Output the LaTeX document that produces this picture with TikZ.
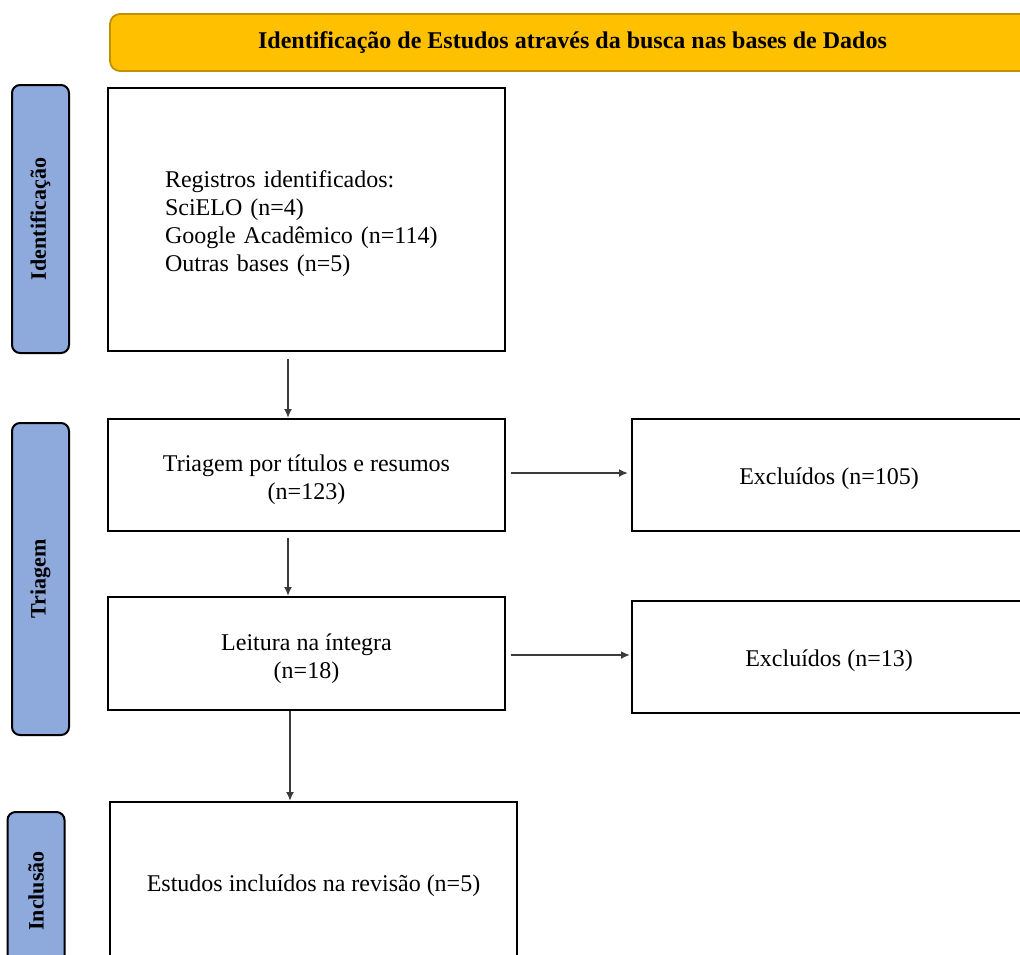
\documentclass[tikz,border=0pt]{standalone}
\usepackage{fontspec}
\setmainfont{Liberation Serif}
\usetikzlibrary{arrows.meta}
\definecolor{bannerfill}{HTML}{FFC000}
\definecolor{bannerline}{HTML}{BF9000}
\definecolor{sidefill}{HTML}{8EA9DB}
\definecolor{arrgray}{HTML}{3A3A3A}

\begin{document}
\begin{tikzpicture}[
  x=0.5pt, y=-0.5pt,
  box/.style={draw=black, line width=1pt, fill=white, align=center, inner sep=0pt,
    text height=12.5pt, font=\fontsize{12}{14}\selectfont},
  twoline/.style={text height=27.5pt},
  side/.style={draw=black, line width=1pt, fill=sidefill, rounded corners=4pt, rotate=90,
    minimum height=28.5pt, inner sep=0pt, font=\fontsize{11}{13}\selectfont\bfseries},
  banner/.style={draw=bannerline, line width=0.9pt, fill=bannerfill, rounded corners=5pt,
    inner sep=0pt, font=\fontsize{12}{14}\selectfont\bfseries},
  arr/.style={draw=arrgray, line width=1.3pt, -{Latex[length=4.5pt,width=4pt]}},
]
\clip (0,0) rectangle (1020,954);
\fill[white] (0,0) rectangle (1020,954);

\node [banner, minimum width=462.5pt, minimum height=28.5pt] (head) at (572.5,42.5)
  {Identificação de Estudos através da busca nas bases de Dados};

\node [side, minimum width=134pt] (sideid) at (40.5,219) {Identificação};
\node [side, minimum width=156pt] (sidetri) at (40.5,579) {Triagem};
\node [side, minimum width=79pt] (sideinc) at (36,891) {Inclusão};

\node [box, align=left, text width=141.5pt, minimum width=198.5pt, minimum height=131.5pt] (reg) at (306.5,219.5)
  {Registros identificados:\\SciELO (n=4)\\Google Acadêmico (n=114)\\Outras bases (n=5)};
\node [box, twoline, minimum width=198.5pt, minimum height=56pt] (tri) at (306.5,475)
  {Triagem por títulos e resumos\\(n=123)};
\node [box, twoline, minimum width=198.5pt, minimum height=56.5pt] (lei) at (306.5,653.5)
  {Leitura na íntegra\\(n=18)};
\node [box, minimum width=203.5pt, minimum height=80pt] (inc) at (313.5,882)
  {Estudos incluídos na revisão (n=5)};

\node [box, minimum width=197pt, minimum height=56pt] (exca) at (829,475) {Excluídos (n=105)};
\node [box, minimum width=197pt, minimum height=56pt] (excb) at (829,657) {Excluídos (n=13)};

\draw [arr] ([xshift=-9.25pt,yshift=-3.5pt]reg.south) -- ([xshift=-9.25pt]tri.north);
\draw [arr] ([xshift=-9.25pt,yshift=-3pt]tri.south) -- ([xshift=-9.25pt]lei.north);
\draw [arr] ([xshift=-8.25pt]lei.south) -- ([xshift=-11.75pt]inc.north);

\draw [arr] ([xshift=2.5pt,yshift=1pt]tri.east) -- ([xshift=-1.5pt,yshift=1pt]exca.west);
\draw [arr] ([xshift=2.5pt,yshift=-0.75pt]lei.east) -- ([xshift=-0.5pt,yshift=1pt]excb.west);

\end{tikzpicture}
\end{document}
